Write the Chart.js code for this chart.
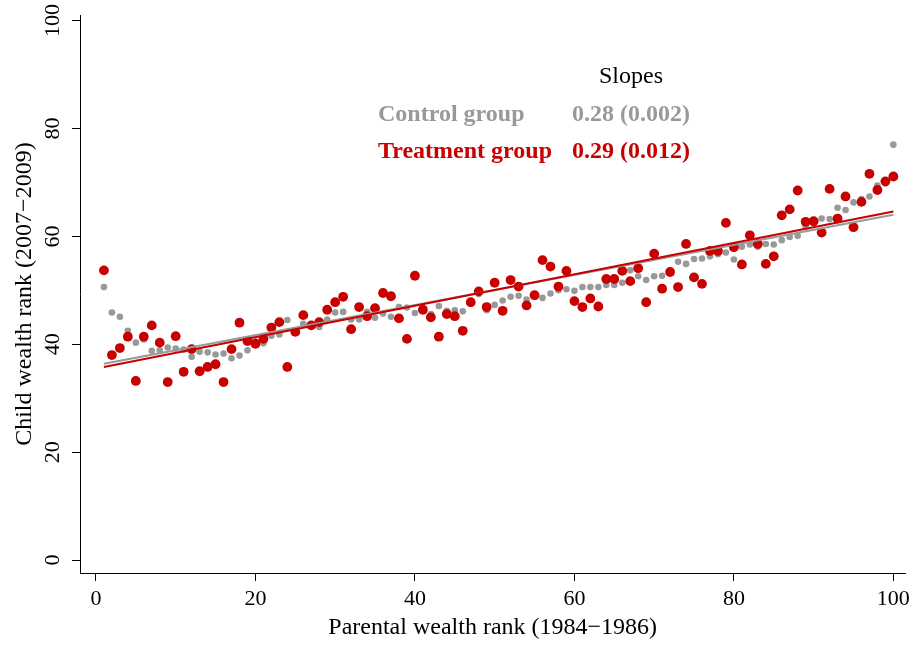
<!DOCTYPE html>
<html>
<head>
<meta charset="utf-8">
<script src="https://cdn.jsdelivr.net/npm/chart.js@4.4.1/dist/chart.umd.min.js"></script>
<style>
  html, body { margin: 0; padding: 0; background: #ffffff; }
  #wrap { width: 915px; height: 647px; }
</style>
</head>
<body>
<div id="wrap"><canvas id="c" width="915" height="647"></canvas></div>
<script>
// Parental wealth rank categories (1..100)
const ranks = Array.from({length: 100}, (_, i) => i + 1);

// Control group (grey) child wealth rank
const controlValues = [
  50.6, 45.9, 45.1, 42.5, 40.3, 40.9, 38.8, 38.9, 39.4, 39.2,
  39.0, 37.7, 38.6, 38.5, 38.1, 38.3, 37.4, 37.9, 38.9, 40.5,
  40.2, 41.6, 41.8, 44.5, 42.5, 43.8, 43.6, 43.2, 44.6, 45.9,
  46.0, 44.6, 44.6, 46.0, 44.9, 45.7, 45.1, 46.9, 46.8, 45.8,
  46.5, 45.6, 47.1, 46.2, 46.3, 46.1, 47.5, 49.3, 46.3, 47.3,
  48.1, 48.8, 49.0, 48.3, 48.8, 48.6, 49.4, 50.0, 50.2, 49.9,
  50.6, 50.6, 50.6, 51.0, 51.0, 51.4, 53.7, 52.6, 51.9, 52.6,
  52.7, 53.5, 55.3, 54.9, 55.8, 55.9, 56.3, 56.7, 57.0, 55.7,
  58.1, 58.5, 58.1, 58.6, 58.5, 59.3, 59.9, 60.1, 61.8, 62.5,
  63.3, 63.2, 65.3, 64.9, 66.3, 66.9, 67.4, 69.4, 69.8, 77.0
];

// Treatment group (red) child wealth rank
const treatmentValues = [
  53.7, 38.0, 39.3, 41.4, 33.2, 41.4, 43.5, 40.3, 33.0, 41.5,
  34.9, 39.1, 35.0, 35.8, 36.3, 33.0, 39.1, 44.0, 40.6, 40.1,
  41.0, 43.1, 44.1, 35.8, 42.3, 45.4, 43.5, 44.1, 46.4, 47.8,
  48.8, 42.8, 46.9, 45.2, 46.7, 49.5, 48.9, 44.8, 41.0, 52.7,
  46.4, 45.0, 41.4, 45.6, 45.2, 42.5, 47.8, 49.8, 46.9, 51.4,
  46.2, 51.9, 50.7, 47.2, 49.1, 55.6, 54.4, 50.7, 53.6, 48.0,
  46.9, 48.5, 47.0, 52.1, 52.1, 53.6, 51.7, 54.1, 47.8, 56.8,
  50.3, 53.4, 50.6, 58.6, 52.4, 51.2, 57.3, 57.3, 62.5, 58.0,
  54.8, 60.2, 58.6, 54.9, 56.3, 63.9, 65.0, 68.5, 62.7, 62.8,
  60.7, 68.8, 63.3, 67.4, 61.7, 66.4, 71.6, 68.6, 70.2, 71.1
];

// Fitted lines: endpoints at x = 1 and x = 100
const fitX = [1, 100];
const controlFit = [36.4, 64.0];
const treatmentFit = [35.8, 64.6];

// Tick labels
const xTicks = [0, 20, 40, 60, 80, 100];
const yTicks = [0, 20, 40, 60, 80, 100];

// Slopes annotation text
const slopeHeader = 'Slopes';
const groupNames = ['Control group', 'Treatment group'];
const slopeTexts = ['0.28 (0.002)', '0.29 (0.012)'];

const GREY = 'rgb(153,153,153)';
const RED = 'rgb(200,0,0)';
const SERIF = "'Liberation Serif', 'Times New Roman', serif";

const toPts = (xs, ys) => xs.map((x, i) => ({x: x, y: ys[i]}));

const annotationPlugin = {
  id: 'slopes',
  afterDraw(chart) {
    const ctx = chart.ctx;
    ctx.save();
    ctx.textBaseline = 'middle';
    ctx.font = '24px ' + SERIF;
    ctx.fillStyle = '#000';
    ctx.textAlign = 'center';
    ctx.fillText(slopeHeader, 631, 77);
    ctx.textAlign = 'left';
    ctx.font = 'bold 24px ' + SERIF;
    const colors = [GREY, RED];
    const ys = [115, 152];
    for (let i = 0; i < 2; i++) {
      ctx.fillStyle = colors[i];
      ctx.fillText(groupNames[i], 378, ys[i]);
      ctx.fillText(slopeTexts[i], 572, ys[i]);
    }
    ctx.restore();
  }
};

new Chart(document.getElementById('c'), {
  type: 'scatter',
  data: {
    datasets: [
      {
        label: 'Control group',
        data: toPts(ranks, controlValues),
        backgroundColor: GREY,
        borderWidth: 0,
        pointRadius: 3.3,
        order: 4
      },
      {
        label: 'Treatment group',
        data: toPts(ranks, treatmentValues),
        backgroundColor: RED,
        borderWidth: 0,
        pointRadius: 4.9,
        order: 3
      },
      {
        label: 'Control fit',
        type: 'line',
        data: toPts(fitX, controlFit),
        borderColor: GREY,
        borderWidth: 2,
        pointRadius: 0,
        fill: false,
        order: 2
      },
      {
        label: 'Treatment fit',
        type: 'line',
        data: toPts(fitX, treatmentFit),
        borderColor: RED,
        borderWidth: 2,
        pointRadius: 0,
        fill: false,
        order: 1
      }
    ]
  },
  options: {
    responsive: false,
    animation: false,
    events: [],
    layout: { padding: { top: 15, right: 9, left: 0, bottom: 0 } },
    plugins: {
      legend: { display: false },
      tooltip: { enabled: false }
    },
    scales: {
      x: {
        type: 'linear',
        min: -2,
        max: 101.5,
        afterBuildTicks: (s) => { s.ticks = xTicks.map(v => ({value: v})); },
        afterFit: (s) => { s.height = 74; },
        grid: { display: true, drawOnChartArea: false, drawTicks: true, tickLength: 8, color: '#000', tickColor: '#000' },
        border: { display: true, color: '#000', width: 1 },
        ticks: { color: '#000', font: { family: SERIF, size: 22 }, padding: 5, maxRotation: 0, minRotation: 0 },
        title: { display: true, text: 'Parental wealth rank (1984\u22121986)', color: '#000', font: { family: SERIF, size: 24 }, padding: { top: 0, bottom: 5 } }
      },
      y: {
        type: 'linear',
        min: -2.4,
        max: 101,
        afterBuildTicks: (s) => { s.ticks = yTicks.map(v => ({value: v})); },
        afterFit: (s) => { s.width = 80; },
        grid: { display: true, drawOnChartArea: false, drawTicks: true, tickLength: 8, color: '#000', tickColor: '#000' },
        border: { display: true, color: '#000', width: 1 },
        ticks: { color: '#000', font: { family: SERIF, size: 22 }, padding: 2, minRotation: 90, maxRotation: 90, crossAlign: 'center' },
        title: { display: true, text: 'Child wealth rank (2007\u22122009)', color: '#000', font: { family: SERIF, size: 24 }, padding: { top: 10, bottom: 0 } }
      }
    }
  },
  plugins: [annotationPlugin]
});
</script>
</body>
</html>
